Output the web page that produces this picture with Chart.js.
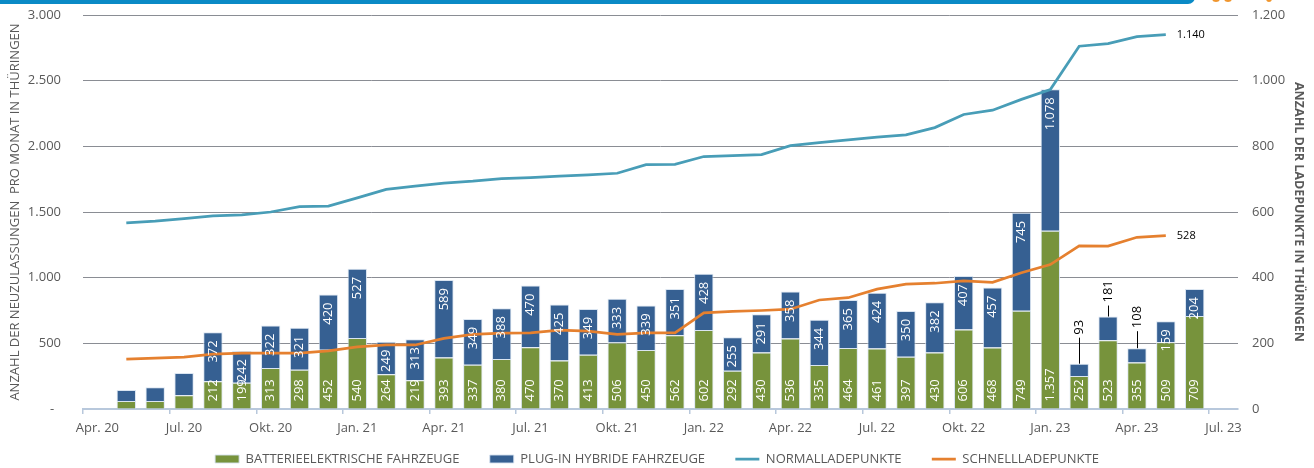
<!DOCTYPE html>
<html lang="de">
<head>
<meta charset="utf-8">
<title>Neuzulassungen und Ladepunkte in Thüringen</title>
<script src="https://cdn.jsdelivr.net/npm/chart.js@4.4.1/dist/chart.umd.min.js"></script>
<style>
  html, body { margin: 0; padding: 0; background: #ffffff; }
  #wrap { position: relative; width: 1314px; height: 468px; overflow: hidden; }
  #topbar { position: absolute; left: -10px; top: -10px; width: 1205px; height: 14px; background: #0a8ac6; border-radius: 9px; }
  .dot { position: absolute; top: -5px; width: 8px; height: 7px; border: 2px solid #f0962e; border-radius: 50%; box-sizing: border-box; }
  canvas { position: absolute; left: 0; top: 0; }
</style>
</head>
<body>
<div id="wrap">
  <canvas id="c" width="1314" height="468"></canvas>
  <div id="topbar"></div>
  <div class="dot" style="left:1212px"></div>
  <div class="dot" style="left:1224px"></div>
  <div class="dot" style="left:1266px;width:6px"></div>
</div>
<script>
// ---- Data ----
const categories = [
  'Apr. 20','Mai 20','Jun. 20','Jul. 20','Aug. 20','Sep. 20','Okt. 20','Nov. 20','Dez. 20',
  'Jan. 21','Feb. 21','Mär. 21','Apr. 21','Mai 21','Jun. 21','Jul. 21','Aug. 21','Sep. 21','Okt. 21','Nov. 21','Dez. 21',
  'Jan. 22','Feb. 22','Mär. 22','Apr. 22','Mai 22','Jun. 22','Jul. 22','Aug. 22','Sep. 22','Okt. 22','Nov. 22','Dez. 22',
  'Jan. 23','Feb. 23','Mär. 23','Apr. 23','Mai 23','Jun. 23','Jul. 23'
];
const bevValues = [null, 61, 60, 104, 212, 199, 313, 298, 452,
  540, 264, 219, 393, 337, 380, 470, 370, 413, 506, 450, 562,
  602, 292, 430, 536, 335, 464, 461, 397, 430, 606, 468, 749,
  1357, 252, 523, 355, 509, 709, null];
const phevValues = [null, 84, 105, 170, 372, 242, 322, 321, 420,
  527, 249, 313, 589, 349, 388, 470, 425, 349, 333, 339, 351,
  428, 255, 291, 358, 344, 365, 424, 350, 382, 407, 457, 745,
  1078, 93, 181, 108, 159, 204, null];
const normalValues = [null, 567, 572, 580, 588, 591, 600, 616, 618,
  643, 669, 679, 688, 694, 702, 705, 709, 713, 718, 744, 745,
  769, 772, 775, 802, 811, 820, 828, 835, 857, 897, 910, 943,
  973, 1105, 1113, 1134, 1140, null, null];
const schnellValues = [null, 152, 155, 158, 167, 170, 170, 170, 177,
  189, 195, 195, 215, 227, 231, 232, 240, 237, 227, 232, 232,
  293, 297, 300, 304, 332, 339, 365, 380, 383, 390, 386, 415,
  440, 497, 496, 523, 528, null, null];
const leftTicks = [0, 500, 1000, 1500, 2000, 2500, 3000];
const rightTicks = [0, 200, 400, 600, 800, 1000, 1200];
const seriesNames = ['BATTERIEELEKTRISCHE FAHRZEUGE', 'PLUG-IN HYBRIDE FAHRZEUGE', 'NORMALLADEPUNKTE', 'SCHNELLLADEPUNKTE'];

// ---- Styling ----
const FONT = '"Open Sans", "Liberation Sans", sans-serif';
const GREY = '#595959';
const GREEN = '#77933c';
const BLUE = '#366092';
const TEAL = '#489db7';
const ORANGE = '#e5802f';
const AXIS = '#b8c8dc';
const GRID = '#8a8d94';
const CLEAR = 'rgba(0,0,0,0)';

function fmt(v) {
  return String(v).replace(/\B(?=(\d{3})+(?!\d))/g, '.');
}

// label placement rules (styling, not data)
const labelOpts = {
  hidden: ['Mai 20', 'Jun. 20', 'Jul. 20'],
  outside: { 'Feb. 23': 26, 'Mär. 23': 11, 'Apr. 23': 17 }
};

const labelPlugin = {
  id: 'barLabels',
  afterDatasetsDraw(chart) {
    const ctx = chart.ctx;
    const m0 = chart.getDatasetMeta(0), m1 = chart.getDatasetMeta(1);
    ctx.save();
    ctx.font = '13px ' + FONT;
    ctx.textBaseline = 'middle';
    categories.forEach((cat, i) => {
      if (bevValues[i] == null || labelOpts.hidden.includes(cat)) return;
      const b0 = m0.data[i], b1 = m1.data[i];
      ctx.save();
      ctx.fillStyle = '#ffffff';
      ctx.translate(b0.x, b0.base - 7);
      ctx.rotate(-Math.PI / 2);
      ctx.textAlign = 'left';
      ctx.fillText(fmt(bevValues[i]), 0, 0);
      ctx.restore();
      const top = Math.min(b1.y, b1.base);
      if (cat in labelOpts.outside) {
        const L = labelOpts.outside[cat];
        ctx.save();
        ctx.strokeStyle = '#000000';
        ctx.lineWidth = 1;
        ctx.beginPath();
        ctx.moveTo(Math.round(b1.x) + 0.5, top);
        ctx.lineTo(Math.round(b1.x) + 0.5, top - L);
        ctx.stroke();
        ctx.fillStyle = '#000000';
        ctx.translate(b1.x, top - L - 3);
        ctx.rotate(-Math.PI / 2);
        ctx.textAlign = 'left';
        ctx.fillText(fmt(phevValues[i]), 0, 0);
        ctx.restore();
      } else {
        ctx.save();
        ctx.fillStyle = '#ffffff';
        ctx.translate(b1.x, top + 8);
        ctx.rotate(-Math.PI / 2);
        ctx.textAlign = 'right';
        ctx.fillText(fmt(phevValues[i]), 0, 0);
        ctx.restore();
      }
    });
    ctx.font = '11px ' + FONT;
    ctx.fillStyle = '#000000';
    ctx.textAlign = 'left';
    [2, 3].forEach(di => {
      const vals = chart.data.datasets[di].data;
      let last = -1;
      vals.forEach((v, i) => { if (v != null) last = i; });
      if (last < 0) return;
      const pt = chart.getDatasetMeta(di).data[last];
      ctx.fillText(fmt(vals[last]), pt.x + 11, pt.y);
    });
    ctx.restore();
  }
};

function build() {
  new Chart(document.getElementById('c'), {
    data: {
      labels: categories,
      datasets: [
        { type: 'bar', label: seriesNames[0], data: bevValues, backgroundColor: GREEN,
          borderColor: 'rgba(214,226,240,0.9)', borderWidth: 1, yAxisID: 'y', stack: 'fz', order: 2, pointStyle: 'rect' },
        { type: 'bar', label: seriesNames[1], data: phevValues, backgroundColor: BLUE,
          borderColor: 'rgba(214,226,240,0.9)', borderWidth: 1, yAxisID: 'y', stack: 'fz', order: 2, pointStyle: 'rect' },
        { type: 'line', label: seriesNames[2], data: normalValues, borderColor: TEAL, backgroundColor: TEAL,
          borderWidth: 2.75, pointRadius: 0, pointStyle: 'line', yAxisID: 'y1', order: 1, tension: 0 },
        { type: 'line', label: seriesNames[3], data: schnellValues, borderColor: ORANGE, backgroundColor: ORANGE,
          borderWidth: 2.75, pointRadius: 0, pointStyle: 'line', yAxisID: 'y1', order: 1, tension: 0 }
      ]
    },
    options: {
      responsive: false,
      animation: false,
      devicePixelRatio: 1,
      layout: { padding: { top: 15, left: 0, right: 0, bottom: -7.5 } },
      datasets: { bar: { categoryPercentage: 1, barPercentage: 0.67 } },
      plugins: {
        tooltip: { enabled: false },
        legend: {
          position: 'bottom',
          labels: {
            usePointStyle: true, pointStyleWidth: 24, boxHeight: 8, padding: 10,
            color: GREY, font: { family: FONT, size: 13 },
            sort: (a, b) => a.datasetIndex - b.datasetIndex,
            generateLabels: (ch) => {
              const items = Chart.defaults.plugins.legend.labels.generateLabels(ch);
              items.forEach(it => { if (it.datasetIndex < 3) it.text = it.text + '      '; });
              return items;
            }
          }
        }
      },
      scales: {
        x: {
          type: 'category',
          offset: true,
          border: { display: true, color: AXIS, width: 2 },
          grid: {
            offset: true, drawOnChartArea: false, drawTicks: true, tickLength: 5, lineWidth: 1.5,
            color: c => (c.index % 3 === 0 && c.index < categories.length) ? AXIS : CLEAR
          },
          ticks: {
            autoSkip: false, maxRotation: 0, minRotation: 0, padding: 6,
            color: GREY, font: { family: FONT, size: 13 },
            callback: (v, i) => (i % 3 === 0 ? categories[i] : '')
          },
          afterFit: s => { s.height = 33.5; }
        },
        y: {
          position: 'left', stacked: true,
          min: leftTicks[0], max: leftTicks[leftTicks.length - 1],
          afterBuildTicks: s => { s.ticks = leftTicks.map(v => ({ value: v })); },
          border: { display: false },
          grid: { drawTicks: true, tickLength: 18, tickColor: CLEAR, lineWidth: 1,
            color: c => (c.tick && c.tick.value === 0) ? CLEAR : GRID },
          ticks: { padding: 4, color: GREY, font: { family: FONT, size: 13 },
            callback: v => (v === 0 ? '-  ' : fmt(v)) },
          title: { display: true, text: 'ANZAHL DER NEUZULASSUNGEN  PRO MONAT IN THÜRINGEN',
            color: GREY, font: { family: FONT, size: 13 }, padding: { top: 7, bottom: 0 } },
          afterFit: s => { s.width = 83; }
        },
        y1: {
          position: 'right',
          min: rightTicks[0], max: rightTicks[rightTicks.length - 1],
          afterBuildTicks: s => { s.ticks = rightTicks.map(v => ({ value: v })); },
          border: { display: false },
          grid: { drawOnChartArea: false, drawTicks: true, tickLength: 10, tickColor: CLEAR },
          ticks: { padding: 4, color: GREY, font: { family: FONT, size: 13 }, callback: v => fmt(v) },
          title: { display: true, text: 'ANZAHL DER LADEPUNKTE IN THÜRINGEN',
            color: GREY, font: { family: FONT, size: 12.5, weight: 'bold' }, padding: { top: 7.5, bottom: 0 } },
          afterFit: s => { s.width = 76; }
        }
      }
    },
    plugins: [labelPlugin]
  });
}

if (document.fonts && document.fonts.load) {
  Promise.all([
    document.fonts.load('13px "Open Sans"'),
    document.fonts.load('bold 12px "Open Sans"')
  ]).then(build, build);
} else {
  build();
}
</script>
</body>
</html>
